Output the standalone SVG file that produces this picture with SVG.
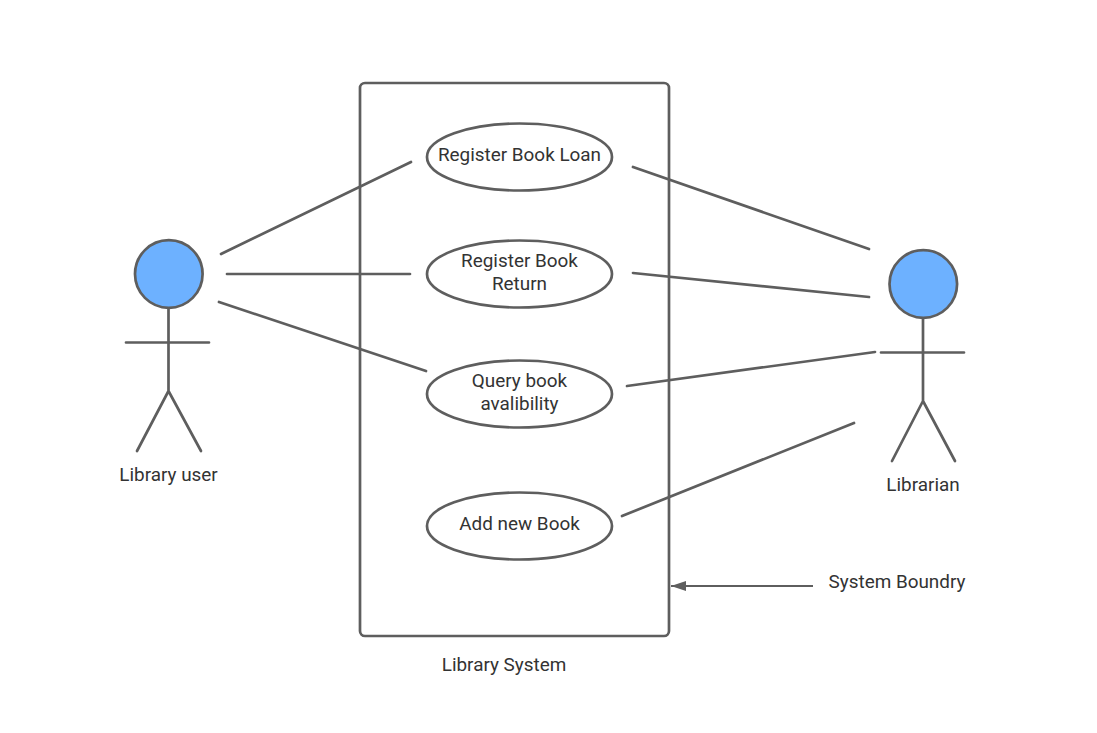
<svg xmlns="http://www.w3.org/2000/svg" width="1097" height="733" viewBox="0 0 1097 733">
<style>
text{font-family:Roboto,"Liberation Sans",Arial,sans-serif;font-size:18.900px;fill:#333;text-anchor:middle}
.s{fill:none;stroke:#5e5e5e;stroke-width:2.700;stroke-linecap:round;stroke-linejoin:round}
.e{fill:#fff;stroke:#5e5e5e;stroke-width:2.700}
.h{fill:#6db1ff;stroke:#5e5e5e;stroke-width:2.700}
</style>
<defs><marker id="a" markerUnits="userSpaceOnUse" markerWidth="16" markerHeight="12" refX="15" refY="6" orient="auto"><path d="M0 1L15 6L0 11Z" fill="#5e5e5e"/></marker></defs>
<rect width="1097" height="733" fill="#fff"/>
<g id="system"><rect x="360" y="83" width="309" height="553" rx="5" fill="#fff" stroke="#5e5e5e" stroke-width="2.700"/><text x="504" y="671">Library System</text></g>
<g id="connectors">
<path class="s" d="M221 254L411 162M227 274H410M219 302L426 371M633 167L869 249M633 273L869 297M627 386L875 352M622 516L854 423"/>
<path d="M813 586H671" fill="none" stroke="#5e5e5e" stroke-width="2" marker-end="url(#a)"/>
</g>
<g id="uc1"><ellipse class="e" cx="519.500" cy="157" rx="92.500" ry="33.500"/><text x="519.500" y="160.500">Register Book Loan</text></g>
<g id="uc2"><ellipse class="e" cx="519.500" cy="274" rx="92.500" ry="33.500"/><text x="519.500" y="267">Register Book</text><text x="519.500" y="289.500">Return</text></g>
<g id="uc3"><ellipse class="e" cx="519.500" cy="394" rx="92.500" ry="33.500"/><text x="519.500" y="387">Query book</text><text x="519.500" y="409.500">avalibility</text></g>
<g id="uc4"><ellipse class="e" cx="519.500" cy="526" rx="92.500" ry="33.500"/><text x="519.500" y="530">Add new Book</text></g>
<g id="user"><path class="s" d="M168.500 308V391M126 342.500H209M168.500 391L137 451M168.500 391L201 451"/><circle class="h" cx="168.800" cy="274" r="33.800"/><text x="168.500" y="481">Library user</text></g>
<g id="librarian"><path class="s" d="M923 318V401M881 352.500H964M923 401L892 461M923 401L955 461"/><circle class="h" cx="923.300" cy="284" r="33.800"/><text x="923" y="490.500">Librarian</text></g>
<g id="boundary-label"><text x="897" y="588">System Boundry</text></g>
</svg>
